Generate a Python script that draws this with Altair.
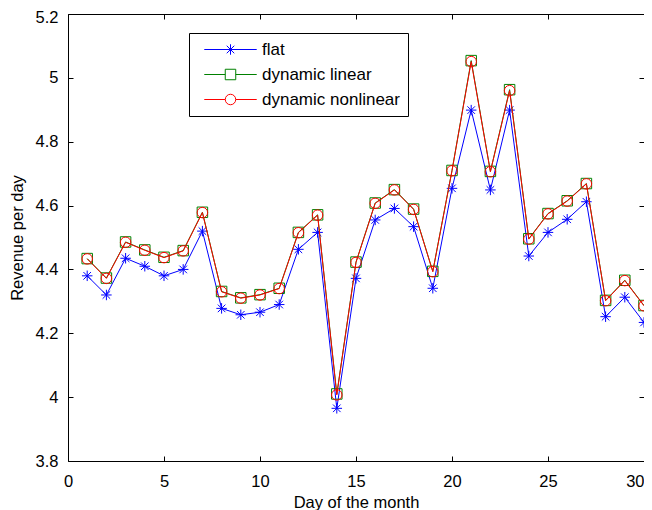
import altair as alt
import pandas as pd

days = list(range(1, 31))
flat = [4.380, 4.320, 4.435, 4.410, 4.380, 4.400, 4.520, 4.278, 4.258, 4.266,
        4.290, 4.463, 4.516, 3.965, 4.372, 4.555, 4.591, 4.534, 4.341, 4.654,
        4.899, 4.649, 4.899, 4.442, 4.516, 4.557, 4.612, 4.252, 4.313, 4.234]
dyn_linear = [4.434, 4.373, 4.486, 4.461, 4.438, 4.459, 4.579, 4.331, 4.311, 4.321,
              4.341, 4.516, 4.571, 4.010, 4.423, 4.608, 4.650, 4.589, 4.394, 4.710,
              5.054, 4.707, 4.963, 4.496, 4.575, 4.615, 4.669, 4.303, 4.366, 4.287]
dyn_nonlinear = [4.433, 4.372, 4.485, 4.460, 4.437, 4.458, 4.578, 4.330, 4.310, 4.320,
                 4.340, 4.515, 4.570, 4.007, 4.422, 4.607, 4.649, 4.588, 4.393, 4.709,
                 5.051, 4.706, 4.960, 4.495, 4.574, 4.614, 4.668, 4.302, 4.365, 4.286]

series_names = ["flat", "dynamic linear", "dynamic nonlinear"]
series_values = [flat, dyn_linear, dyn_nonlinear]
series_colors = ["#0000ff", "#008000", "#ff0000"]
x_ticks = [0, 5, 10, 15, 20, 25, 30]
y_ticks = [3.8, 4.0, 4.2, 4.4, 4.6, 4.8, 5.0, 5.2]

STAR = "M-1,0H1M0,-1V1M-0.72,-0.72L0.72,0.72M-0.72,0.72L0.72,-0.72"
SQUARE = "M-1,-1H1V1H-1Z"
CIRCLE = "M1,0A1,1,0,1,1,-1,0A1,1,0,1,1,1,0Z"
marker_paths = [STAR, SQUARE, CIRCLE]
legend_paths = [
    "M-5,0H5" + STAR,
    "M-5,0H-1M1,0H5" + SQUARE,
    "M-5,0H-1M1,0H5" + CIRCLE,
]

rows = []
for name, vals in zip(series_names, series_values):
    for d, v in zip(days, vals):
        rows.append({"day": d, "value": v, "series": name})
df = pd.DataFrame(rows)

FONT = "Liberation Sans"
xscale = alt.Scale(domain=[0, 30], nice=False, zero=False)
yscale = alt.Scale(domain=[3.8, 5.2], nice=False, zero=False)

x_bottom = alt.Axis(orient="bottom", values=x_ticks, title="Day of the month",
                    offset=-5, tickSize=5, labelPadding=12, labelFlush=False,
                    labelAlign={"condition": {"test": "datum.value >= 30", "value": "right"},
                                "value": "center"},
                    titleBaseline="alphabetic", titleY=51)
y_left = alt.Axis(orient="left", values=y_ticks, format=".1~f", title="Revenue per day",
                  offset=-5, tickSize=5, labelPadding=10, titlePadding=10,
                  labelOffset={"condition": {"test": "datum.value >= 5.19", "value": 3},
                               "value": 0})
x_top = alt.Axis(orient="top", values=x_ticks, labels=False, title=None,
                 offset=-5, tickSize=5)
y_right = alt.Axis(orient="right", values=y_ticks, labels=False, title=None,
                   offset=-5, tickSize=5)

layers = []
for i, (name, color, path) in enumerate(zip(series_names, series_colors, marker_paths)):
    base = alt.Chart(df).transform_filter(alt.datum.series == name)
    if i == 0:
        xe = alt.X("day:Q", scale=xscale, axis=x_bottom)
        ye = alt.Y("value:Q", scale=yscale, axis=y_left)
    else:
        xe = alt.X("day:Q", scale=xscale, axis=None)
        ye = alt.Y("value:Q", scale=yscale, axis=None)
    line = base.mark_line(color=color, strokeWidth=1).encode(x=xe, y=ye)
    pts = base.mark_point(shape=path, size=110, color=color, strokeWidth=1,
                          filled=False, opacity=1).encode(
        x=alt.X("day:Q", scale=xscale, axis=None),
        y=alt.Y("value:Q", scale=yscale, axis=None))
    layers += [line, pts]

legend_layer = alt.Chart(df).mark_point(opacity=0, size=110, filled=False, strokeWidth=1).encode(
    x=alt.X("day:Q", scale=xscale, axis=x_top),
    y=alt.Y("value:Q", scale=yscale, axis=y_right),
    color=alt.Color("series:N", scale=alt.Scale(domain=series_names, range=series_colors),
                    legend=alt.Legend(title=None)),
    shape=alt.Shape("series:N", scale=alt.Scale(domain=series_names, range=legend_paths),
                    legend=alt.Legend(title=None)),
)
layers.append(legend_layer)

chart = alt.layer(*layers).resolve_axis(
    x="independent", y="independent"
).properties(
    width=576, height=447,
    autosize=alt.AutoSizeParams(type="none"),
    padding={"left": 60, "top": 6, "right": 0, "bottom": 49},
).configure_view(
    stroke="black", strokeWidth=1
).configure_axis(
    grid=False, domain=False,
    labelFont=FONT, labelFontSize=16.5, labelColor="black",
    titleFont=FONT, titleFontSize=16.5, titleFontWeight="normal", titleColor="black",
    tickColor="black", tickWidth=1,
).configure_legend(
    orient="none", legendX=121, legendY=19,
    strokeColor="black", fillColor="white", padding=8, cornerRadius=0,
    symbolSize=110, symbolStrokeWidth=1, symbolOpacity=1,
    symbolOffset=25, labelOffset=23,
    labelFont=FONT, labelFontSize=17, labelColor="black",
    rowPadding=7,
)

chart.save("out.html", embed_options={"renderer": "svg", "actions": False})
